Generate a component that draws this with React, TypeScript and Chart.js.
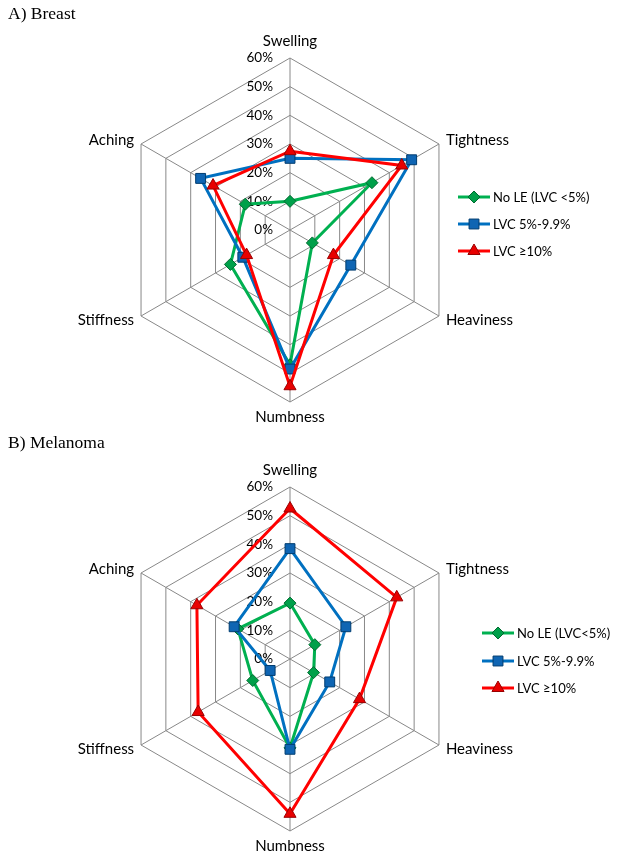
import { useEffect, useRef } from 'react';
import { Chart, registerables } from 'chart.js';
import { drawPoint } from 'chart.js/helpers';

Chart.register(...registerables);

// ---- data ----
const categories = ['Swelling', 'Tightness', 'Heaviness', 'Numbness', 'Stiffness', 'Aching'];
const tickValues = [0, 10, 20, 30, 40, 50, 60];
const tickLabels = tickValues.map((v) => `${v}%`);

const breastNoLE = [10, 33, 9, 47, 24, 18];
const breastLVC5 = [25, 49, 24.5, 48.5, 19, 36];
const breastLVC10 = [27.5, 45, 17.5, 54.5, 17.5, 31];
const breastLegend = ['No LE (LVC <5%)', 'LVC 5%-9.9%', 'LVC ≥10%'];

const melanomaNoLE = [19.5, 10, 9.5, 31, 15, 21];
const melanomaLVC5 = [38.5, 22.5, 16, 31.5, 8, 22.5];
const melanomaLVC10 = [52.5, 43, 28, 54, 37, 37.5];
const melanomaLegend = ['No LE (LVC<5%)', 'LVC 5%-9.9%', 'LVC ≥10%'];

const FONT = 'Lato, "Open Sans", sans-serif';

const seriesStyles = [
  { line: '#00B050', fill: '#00a04a', border: '#006b30', pointStyle: 'rectRot', radius: 6, order: 2 },
  { line: '#0070C0', fill: '#0f65b3', border: '#003d70', pointStyle: 'rect', radius: 7, order: 1 },
  { line: '#FF0000', fill: '#e80000', border: '#990000', pointStyle: 'triangle', radius: 7, order: 0 },
];

const tickLabelPlugin = {
  id: 'leftTickLabels',
  beforeDatasetsDraw(chart: any) {
    const s = chart.scales.r;
    const ctx = chart.ctx;
    ctx.save();
    ctx.font = `13.5px ${FONT}`;
    ctx.fillStyle = '#000';
    ctx.textAlign = 'right';
    ctx.textBaseline = 'middle';
    s.ticks.forEach((t: any, i: number) => {
      const d = s.getDistanceFromCenterForValue(t.value);
      ctx.fillText(tickLabels[i] ?? `${t.value}%`, s.xCenter - 17, s.yCenter - d);
    });
    ctx.restore();
  },
};

const lineLegendPlugin = {
  id: 'lineLegend',
  afterDraw(chart: any, _args: any, opts: any) {
    const ctx = chart.ctx;
    ctx.save();
    chart.data.datasets.forEach((ds: any, i: number) => {
      const y = opts.rows[i];
      const x0 = opts.x;
      ctx.strokeStyle = ds.borderColor;
      ctx.lineWidth = 3;
      ctx.beginPath();
      ctx.moveTo(x0, y);
      ctx.lineTo(x0 + opts.lineLen, y);
      ctx.stroke();
      ctx.fillStyle = ds.pointBackgroundColor;
      ctx.strokeStyle = ds.pointBorderColor;
      ctx.lineWidth = 1;
      drawPoint(ctx, { pointStyle: ds.pointStyle, radius: ds.pointRadius, rotation: 0, borderWidth: 1 }, x0 + opts.lineLen / 2, y);
      ctx.fillStyle = '#000';
      ctx.font = `13px ${FONT}`;
      ctx.textAlign = 'left';
      ctx.textBaseline = 'middle';
      ctx.fillText(ds.label, x0 + opts.lineLen + 3, y + 1);
    });
    ctx.restore();
  },
};

function RadarPanel({ series, labels, legendX, legendRows }: { series: number[][]; labels: string[]; legendX: number; legendRows: number[] }) {
  const ref = useRef<HTMLCanvasElement>(null);
  useEffect(() => {
    if (!ref.current) return;
    const chart = new Chart(ref.current, {
      type: 'radar',
      data: {
        labels: categories,
        datasets: series.map((data, i) => ({
          label: labels[i],
          data,
          order: seriesStyles[i].order,
          borderColor: seriesStyles[i].line,
          borderWidth: 3,
          fill: false,
          tension: 0,
          pointStyle: seriesStyles[i].pointStyle as any,
          pointRadius: seriesStyles[i].radius,
          pointBackgroundColor: seriesStyles[i].fill,
          pointBorderColor: seriesStyles[i].border,
          pointBorderWidth: 1,
        })),
      },
      options: {
        animation: false,
        responsive: false,
        events: [],
        layout: { padding: { top: 32, bottom: 19, left: 12, right: 56 } },
        plugins: {
          legend: { display: false },
          tooltip: { enabled: false },
          lineLegend: { x: legendX, rows: legendRows, lineLen: 32 },
        } as any,
        scales: {
          r: {
            min: 0,
            max: 60,
            ticks: { display: false, stepSize: 10, callback: (v: any) => `${v}%` },
            grid: { color: '#888888', lineWidth: 1 },
            angleLines: { color: '#888888', lineWidth: 1 },
            pointLabels: {
              color: '#000',
              font: { family: FONT, size: 15, lineHeight: 0 },
              padding: (ctx: any) => [17, 8, 8, 15, 8, 8][ctx.index] ?? 8,
            },
          },
        },
      },
      plugins: [tickLabelPlugin, lineLegendPlugin],
    });
    return () => chart.destroy();
  }, []);
  return <canvas ref={ref} width={608} height={429} style={{ display: 'block', width: 608, height: 429 }} />;
}

const titleStyle: React.CSSProperties = {
  position: 'absolute',
  left: 0,
  fontFamily: '"Liberation Serif", "Times New Roman", serif',
  fontSize: '17.5px',
  lineHeight: '17px',
  color: '#000',
  whiteSpace: 'nowrap',
};

export default function App() {
  return (
    <div style={{ position: 'relative', width: 608, height: 847, overflow: 'hidden' }}>
      <div style={{ position: 'absolute', left: 0, top: 0 }}>
        <RadarPanel series={[breastNoLE, breastLVC5, breastLVC10]} labels={breastLegend} legendX={450} legendRows={[189, 216, 243]} />
      </div>
      <div style={{ position: 'absolute', left: 0, top: 429 }}>
        <RadarPanel series={[melanomaNoLE, melanomaLVC5, melanomaLVC10]} labels={melanomaLegend} legendX={474} legendRows={[196, 224, 251]} />
      </div>
      <div style={{ ...titleStyle, top: -3 }}>A) Breast</div>
      <div style={{ ...titleStyle, top: 426 }}>B) Melanoma</div>
    </div>
  );
}
